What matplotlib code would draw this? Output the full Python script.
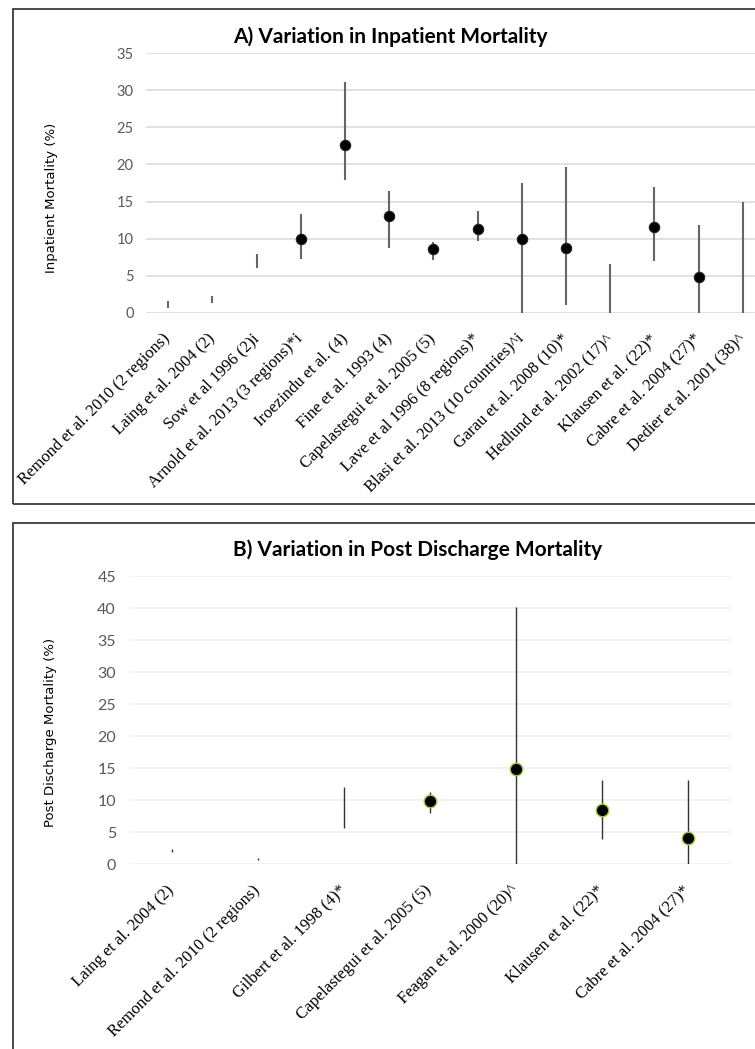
import matplotlib
matplotlib.use("Agg")
import matplotlib.pyplot as plt
import numpy as np
from matplotlib.patches import Rectangle
from matplotlib import font_manager

# ---------------- data ----------------
inpatient_studies = [
    "Remond et al. 2010 (2 regions)", "Laing et al. 2004 (2)", "Sow et al 1996 (2)i",
    "Arnold et al. 2013 (3 regions)*i", "Iroezindu et al. (4)", "Fine et al. 1993 (4)",
    "Capelastegui et al. 2005 (5)", "Lave et al 1996 (8 regions)*",
    "Blasi et al. 2013 (10 countries)^i", "Garau et al. 2008 (10)*",
    "Hedlund et al. 2002 (17)^", "Klausen et al. (22)*", "Cabre et al. 2004 (27)*",
    "Dedier et al. 2001 (38)^",
]
inpatient_mid = [np.nan, np.nan, np.nan, 9.9, 22.6, 13.0, 8.6, 11.3, 10.0, 8.7,
                 np.nan, 11.5, 4.8, np.nan]
inpatient_low = [0.6, 1.3, 6.0, 7.3, 17.9, 8.7, 7.1, 9.7, 0.0, 1.1, 0.0, 7.0, 0.0, 0.0]
inpatient_high = [1.6, 2.3, 7.9, 13.3, 31.1, 16.4, 9.6, 13.7, 17.5, 19.7, 6.6, 17.0, 11.9, 15.0]

post_studies = [
    "Laing et al. 2004 (2)", "Remond et al. 2010 (2 regions)", "Gilbert et al. 1998 (4)*",
    "Capelastegui et al. 2005 (5)", "Feagan et al. 2000 (20)^", "Klausen et al. (22)*",
    "Cabre et al. 2004 (27)*",
]
post_mid = [np.nan, np.nan, np.nan, 9.8, 14.8, 8.5, 4.1]
post_low = [1.8, 0.6, 5.7, 8.0, 0.0, 3.9, 0.0]
post_high = [2.4, 1.0, 12.0, 11.2, 40.1, 13.1, 13.1]

yticks_a = [0, 5, 10, 15, 20, 25, 30, 35]
yticks_b = [0, 5, 10, 15, 20, 25, 30, 35, 40, 45]

# ---------------- fonts ----------------
avail = {f.name for f in font_manager.fontManager.ttflist}
tfont = "Lato" if "Lato" in avail else "DejaVu Sans"
serif = "Liberation Serif" if "Liberation Serif" in avail else "DejaVu Serif"

W, H = 755, 1049
fig = plt.figure(figsize=(W / 100, H / 100), dpi=100)


def fx(px):
    return px / W


def fy(py):
    return 1 - py / H


# frames
fig.patches.append(Rectangle((fx(13), fy(1060)), fx(800), fy(523) - fy(1060),
                             transform=fig.transFigure, fill=False,
                             edgecolor="#3a3a3a", lw=1.3))
fig.patches.append(Rectangle((fx(13), fy(504)), fx(800), fy(9.5) - fy(504),
                             transform=fig.transFigure, fill=False,
                             edgecolor="#3a3a3a", lw=1.3))


def panel(rect, studies, mid, low, high, yticks, ylabel, title, title_y,
          grid_color, err_color, err_lw, msize, mface, medge, mew, labelpos, ytsize):
    ax = fig.add_axes(rect)
    x = np.arange(len(studies))
    lo = np.array(low)
    hi = np.array(high)
    ax.vlines(x, lo, hi, color=err_color, lw=err_lw, zorder=3)
    ax.plot(x, mid, "o", ms=msize, mfc=mface, mec=medge, mew=mew, zorder=4)
    ax.set_xlim(-0.5, len(studies) - 0.5)
    ax.set_ylim(0, yticks[-1])
    ax.set_yticks(yticks)
    ax.yaxis.grid(True, color=grid_color, lw=1.1)
    ax.set_axisbelow(True)
    for s in ax.spines.values():
        s.set_visible(False)
    ax.tick_params(axis="both", length=0)
    ax.tick_params(axis="y", pad=9, labelcolor="#595959", labelsize=ytsize)
    for t in ax.get_yticklabels():
        t.set_family(tfont)
    ax.set_xticks(x)
    ax.set_xticklabels(studies, rotation=45, ha="right", va="center",
                       rotation_mode="anchor", family=serif, fontsize=12, color="black")
    ax.tick_params(axis="x", pad=17)
    ax.set_ylabel(ylabel, fontsize=9.5, color="black", family="DejaVu Sans")
    ax.yaxis.set_label_coords(*labelpos)
    fig.text(title[1], title_y, title[0], ha="center", va="center",
             fontsize=15, fontweight="bold", family=tfont)
    return ax


panel([fx(146), fy(312.7), fx(765) - fx(146), fy(53.3) - fy(312.7)],
      inpatient_studies, inpatient_mid, inpatient_low, inpatient_high, yticks_a,
      "Inpatient Mortality (%)", ("A) Variation in Inpatient Mortality", fx(390)), fy(37),
      "#d9d9d9", "#666666", 1.5, 7.5, "black", "#222222", 0.8, (-0.142, 0.444), 10.5)

panel([fx(128.5), fy(864), fx(730.5) - fx(128.5), fy(576) - fy(864)],
      post_studies, post_mid, post_low, post_high, yticks_b,
      "Post Discharge Mortality (%)", ("B) Variation in Post Discharge Mortality", fx(418)),
      fy(550), "#efefef", "#333333", 1.0, 9, "black", "#9acd32", 1.0, (-0.119, 0.458), 11.5)

fig.savefig("out.png", dpi=100)
